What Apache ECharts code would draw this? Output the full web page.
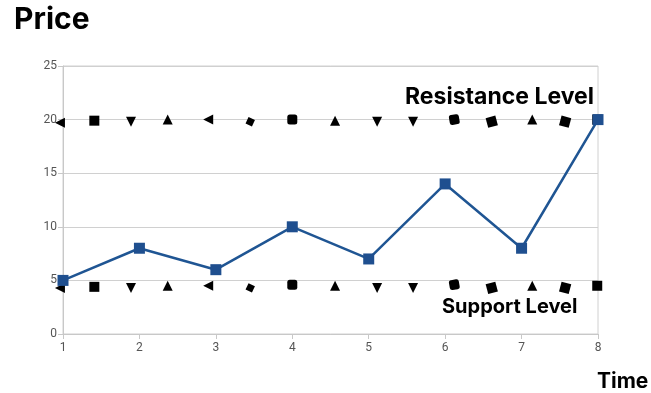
<!DOCTYPE html>
<html>
<head>
<meta charset="utf-8">
<script src="https://cdn.jsdelivr.net/npm/echarts@6/dist/echarts.min.js"></script>
<style>
  html, body { margin: 0; padding: 0; background: #fff; }
  #chart { width: 651px; height: 393px; }
</style>
</head>
<body>
<div id="chart"></div>
<script>
// Price over time
const timePoints = [1, 2, 3, 4, 5, 6, 7, 8];
const prices = [5, 8, 6, 10, 7, 14, 8, 20];

// Hand-placed level markers (time, price)
const resistanceTimes = [0.96, 1.41, 1.89, 2.37, 2.90, 3.45, 4.00, 4.56, 5.11, 5.58, 6.12, 6.61, 7.14, 7.57, 7.99];
const resistanceValues = [19.7, 19.9, 19.8, 20.0, 20.0, 19.8, 20.0, 19.9, 19.8, 19.8, 20.0, 19.8, 20.0, 19.8, 20.0];
const supportTimes = [0.96, 1.41, 1.89, 2.37, 2.90, 3.45, 4.00, 4.56, 5.11, 5.58, 6.12, 6.61, 7.14, 7.57, 7.99];
const supportValues = [4.3, 4.4, 4.3, 4.5, 4.5, 4.3, 4.6, 4.5, 4.3, 4.3, 4.6, 4.3, 4.5, 4.3, 4.5];

// Marker glyph variety for the level lines
const glyphs = [
  { symbol: 'triangle', rotate: 90 },
  { symbol: 'rect', rotate: 0 },
  { symbol: 'triangle', rotate: 180 },
  { symbol: 'triangle', rotate: 0 },
  { symbol: 'triangle', rotate: 90 },
  { symbol: 'diamond', rotate: 20 },
  { symbol: 'roundRect', rotate: 0 },
  { symbol: 'triangle', rotate: 0 },
  { symbol: 'triangle', rotate: 180 },
  { symbol: 'triangle', rotate: 180 },
  { symbol: 'roundRect', rotate: 10 },
  { symbol: 'rect', rotate: 15 },
  { symbol: 'triangle', rotate: 0 },
  { symbol: 'rect', rotate: -15 },
  { symbol: 'rect', rotate: 0 }
];

function levelData(times, values) {
  return times.map((t, i) => ({
    value: [t, values[i]],
    symbol: glyphs[i % glyphs.length].symbol,
    symbolRotate: glyphs[i % glyphs.length].rotate
  }));
}

const chart = echarts.init(document.getElementById('chart'));
const labelFont = 'Inter, "Noto Sans", "DejaVu Sans", sans-serif';

chart.setOption({
  animation: false,
  backgroundColor: '#fff',
  grid: {
    left: 63, right: 53, top: 66, bottom: 59,
    show: true, borderColor: '#d0d0d0', borderWidth: 1
  },
  xAxis: {
    type: 'value', min: 1, max: 8, interval: 1,
    axisLine: { lineStyle: { color: '#c8c8c8', width: 1 } },
    axisTick: { show: true, length: 5, lineStyle: { color: '#c8c8c8' } },
    axisLabel: { color: '#555', fontSize: 12, fontFamily: 'Roboto, sans-serif', margin: 8 },
    splitLine: { show: false }
  },
  yAxis: {
    type: 'value', min: 0, max: 25, interval: 5,
    axisLine: { show: true, lineStyle: { color: '#c8c8c8', width: 1 } },
    axisTick: { show: true, length: 5, lineStyle: { color: '#c8c8c8' } },
    axisLabel: { color: '#555', fontSize: 12, fontFamily: 'Roboto, sans-serif', margin: 6 },
    splitLine: { show: true, lineStyle: { color: '#d0d0d0', width: 1.2 } }
  },
  series: [
    {
      type: 'scatter',
      data: levelData(resistanceTimes, resistanceValues),
      symbolSize: 10,
      clip: false,
      itemStyle: { color: '#000', opacity: 1 },
      z: 3
    },
    {
      type: 'scatter',
      data: levelData(supportTimes, supportValues),
      symbolSize: 10,
      clip: false,
      itemStyle: { color: '#000', opacity: 1 },
      z: 3
    },
    {
      type: 'line',
      data: timePoints.map((t, i) => [t, prices[i]]),
      symbol: 'rect',
      symbolSize: 11,
      clip: false,
      lineStyle: { color: '#1f5593', width: 2.5 },
      itemStyle: { color: '#1f4f8f' },
      z: 4
    }
  ],
  graphic: [
    {
      type: 'text', left: 14, top: 5,
      style: { text: 'Price', font: 'bold 30px ' + labelFont, fill: '#000' }
    },
    {
      type: 'text', left: 597, top: 371,
      style: { text: 'Time', font: 'bold 21px ' + labelFont, fill: '#000' }
    },
    {
      type: 'text', left: 405, top: 86,
      style: { text: 'Resistance Level', font: 'bold 23px ' + labelFont, fill: '#000' }
    },
    {
      type: 'text', left: 442, top: 297,
      style: { text: 'Support Level', font: 'bold 20px ' + labelFont, fill: '#000' }
    }
  ]
});
</script>
</body>
</html>
